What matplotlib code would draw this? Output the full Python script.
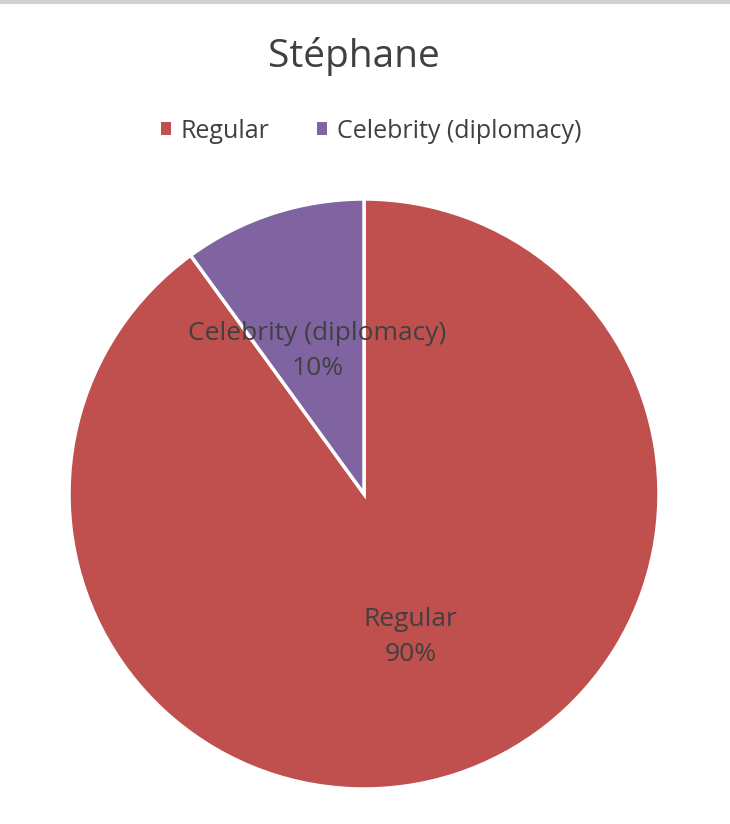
import matplotlib.pyplot as plt
from matplotlib.patches import Patch

plt.rcParams['font.family'] = ['Open Sans', 'DejaVu Sans']

# данные
categories = ['Regular', 'Celebrity (diplomacy)']
shares = [90, 10]
colors = ['#C0504D', '#8064A2']

W, H = 730, 824
fig = plt.figure(figsize=(W / 100, H / 100), dpi=100)

# рамка сверху (скриншот)
fig.add_artist(plt.Line2D([0, 1], [1 - 1.5 / H, 1 - 1.5 / H], color='#d0d0d0', lw=3))

cx, cy, r = 364, 494, 295
ax = fig.add_axes([(cx - r) / W, (H - cy - r) / H, 2 * r / W, 2 * r / H])

labels_iter = iter(categories)
def fmt(p):
    return f"{next(labels_iter)}\n{p:.0f}%"

wedges, texts = ax.pie(shares, colors=colors, startangle=90, counterclock=False,
                       wedgeprops=dict(edgecolor='white', linewidth=2.5),
                       autopct=fmt, pctdistance=0.51,
                       textprops=dict(color='#404040', fontsize=19, linespacing=1.5))[:2]
ax.set_aspect('equal')
ax.set_xlim(-1, 1)
ax.set_ylim(-1, 1)

fig.text(354 / W, 1 - 57 / H, 'Stéphane', ha='center', va='center',
         fontsize=28, color='#404040')

handles = [Patch(facecolor=c, label=l) for c, l in zip(colors, categories)]
fig.legend(handles=handles, loc='center', bbox_to_anchor=(371 / W, 1 - 131 / H),
           ncol=2, frameon=False, fontsize=18, labelcolor='#404040',
           handlelength=0.4, handleheight=0.4, handletextpad=0.4, columnspacing=1.9)

fig.savefig('out.png', dpi=100)
